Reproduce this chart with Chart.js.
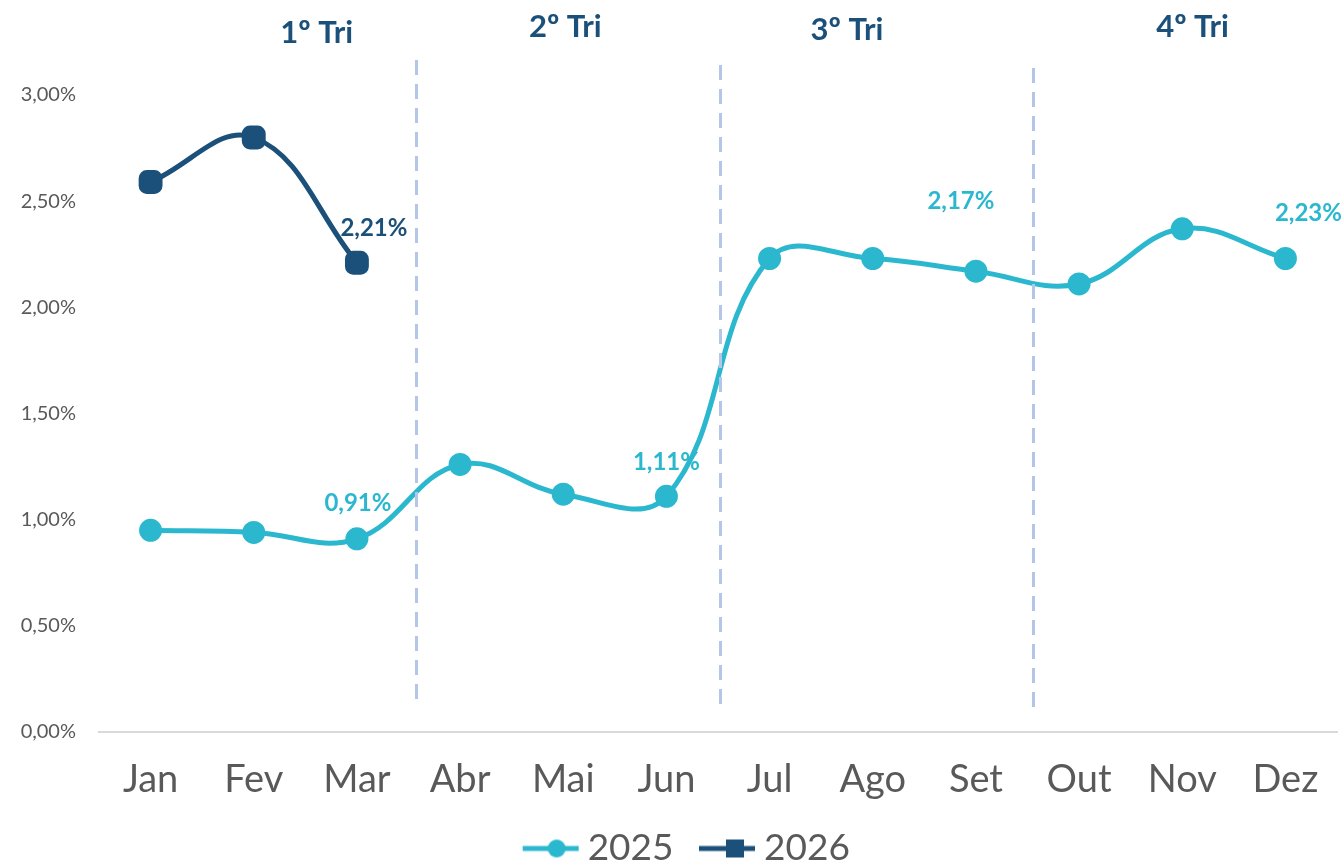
<!DOCTYPE html>
<html lang="pt">
<head>
<meta charset="utf-8">
<title>Taxa mensal 2025 x 2026</title>
<script src="https://cdn.jsdelivr.net/npm/chart.js@4.4.1/dist/chart.umd.min.js"></script>
<style>
  html, body { margin: 0; padding: 0; background: #fff; overflow: hidden; }
  #wrap { width: 1344px; height: 862px; position: relative; }
</style>
</head>
<body>
<div id="wrap"><canvas id="grafico"></canvas></div>
<script>
const meses = ['Jan', 'Fev', 'Mar', 'Abr', 'Mai', 'Jun', 'Jul', 'Ago', 'Set', 'Out', 'Nov', 'Dez'];
const serie2025 = [0.95, 0.94, 0.91, 1.26, 1.12, 1.11, 2.23, 2.23, 2.17, 2.11, 2.37, 2.23];
const serie2026 = [2.59, 2.80, 2.21];
const trimestres = ['1º Tri', '2º Tri', '3º Tri', '4º Tri'];
const yTicks = [0, 0.5, 1, 1.5, 2, 2.5, 3];

const CIANO = '#2bb8cf';
const AZUL = '#1a5079';
const CINZA = '#595959';

const fmtPct = v => v.toFixed(2).replace('.', ',') + '%';

// icones da legenda: linha com marcador (margem transparente à esquerda)
function iconeLegenda(cor, tipo) {
  const c = document.createElement('canvas');
  c.width = 69; c.height = 22;
  const g = c.getContext('2d');
  g.strokeStyle = cor; g.lineWidth = 5;
  g.beginPath(); g.moveTo(11, 11); g.lineTo(67, 11); g.stroke();
  g.fillStyle = cor;
  if (tipo === 'circle') {
    g.beginPath(); g.arc(45, 11, 9, 0, Math.PI * 2); g.fill();
  } else {
    g.fillRect(38, 2, 18, 18);
  }
  return c;
}
const icones = [iconeLegenda(CIANO, 'circle'), iconeLegenda(AZUL, 'rect')];

// rótulos de valor em alguns pontos (índice -> deslocamento)
const rotulos = [
  { 2: [1, -36], 5: [0, -34], 8: [-15, -70], 11: [23, -45] },
  { 2: [17, -34] }
];

const extras = {
  id: 'extras',
  afterLayout(chart) {
    // legenda um pouco à direita do centro
    chart.legend.left += 18;
    chart.legend.right += 18;
  },
  afterDatasetsDraw(chart) {
    const ctx = chart.ctx;
    const x = chart.scales.x;
    // divisórias dos trimestres
    ctx.save();
    ctx.strokeStyle = '#b4c6e7';
    ctx.lineWidth = 3;
    ctx.setLineDash([15, 9]);
    [[2.57, 60, 706], [5.52, 65, 712], [8.55, 68, 712]].forEach(([i, y0, y1]) => {
      const px = Math.round(x.getPixelForValue(i)) + 0.5;
      ctx.beginPath(); ctx.moveTo(px, y0); ctx.lineTo(px, y1); ctx.stroke();
    });
    ctx.restore();

    // valores
    ctx.save();
    ctx.font = 'bold 24px Lato';
    ctx.textAlign = 'center';
    ctx.textBaseline = 'middle';
    chart.data.datasets.forEach((ds, d) => {
      const meta = chart.getDatasetMeta(d);
      Object.keys(rotulos[d]).forEach(k => {
        const pt = meta.data[k];
        const [dx, dy] = rotulos[d][k];
        ctx.fillStyle = ds.borderColor;
        ctx.fillText(fmtPct(ds.data[k]), pt.x + dx, pt.y + dy);
      });
    });
    ctx.restore();

    // títulos dos trimestres
    ctx.save();
    ctx.font = 'bold 31px Lato';
    ctx.fillStyle = AZUL;
    ctx.textAlign = 'center';
    ctx.textBaseline = 'middle';
    [[1.61, 33], [4.02, 27], [6.75, 30], [10.1, 27]].forEach(([i, y], n) => {
      ctx.fillText(trimestres[n], x.getPixelForValue(i), y);
    });
    ctx.restore();
  }
};

new Chart(document.getElementById('grafico'), {
  type: 'line',
  data: {
    labels: meses,
    datasets: [
      {
        label: '2025',
        data: serie2025,
        borderColor: CIANO,
        backgroundColor: CIANO,
        borderWidth: 5,
        pointStyle: 'circle',
        pointRadius: 9,
        pointHoverRadius: 9,
        tension: 0.4
      },
      {
        label: '2026',
        data: serie2026,
        borderColor: AZUL,
        backgroundColor: AZUL,
        borderWidth: 5,
        pointStyle: 'rectRounded',
        pointRadius: 11,
        pointHoverRadius: 11,
        tension: 0.4
      }
    ]
  },
  options: {
    responsive: true,
    maintainAspectRatio: false,
    animation: false,
    layout: { autoPadding: false, padding: { top: 95, right: 7, left: 0, bottom: -15 } },
    scales: {
      x: {
        offset: true,
        afterFit: s => { s.height = 72; s.paddingLeft = 0; s.paddingRight = 0; },
        grid: { display: false, drawTicks: false },
        border: { color: '#d9d9d9', width: 2 },
        ticks: { color: CINZA, font: { family: 'Lato', size: 38 }, padding: 25 }
      },
      y: {
        min: 0,
        max: 3,
        afterBuildTicks: s => { s.ticks = yTicks.map(v => ({ value: v })); },
        afterFit: s => { s.width = 99; },
        grid: { display: false, drawTicks: false },
        border: { display: false },
        ticks: {
          color: CINZA,
          font: { family: 'Lato', size: 20 },
          padding: 23,
          callback: v => fmtPct(v)
        }
      }
    },
    plugins: {
      tooltip: { enabled: false },
      legend: {
        position: 'bottom',
        labels: {
          usePointStyle: true,
          pointStyleWidth: 46,
          boxHeight: 22,
          color: CINZA,
          font: { family: 'Lato', size: 37 },
          padding: 26,
          generateLabels: chart => {
            const itens = Chart.defaults.plugins.legend.labels.generateLabels(chart);
            itens.forEach((it, i) => { it.pointStyle = icones[i]; });
            return itens;
          }
        }
      }
    }
  },
  plugins: [extras]
});
</script>
</body>
</html>
